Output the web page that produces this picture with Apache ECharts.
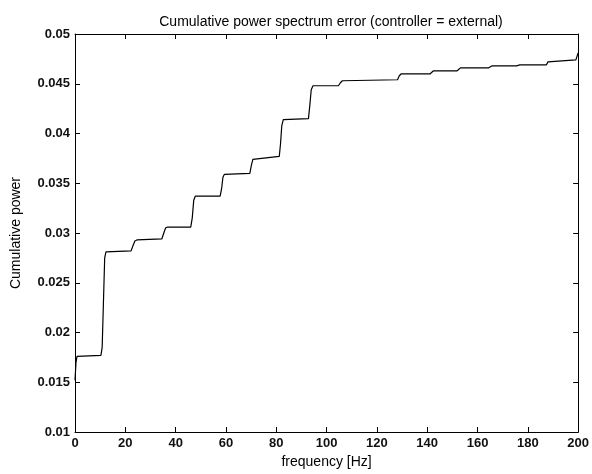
<!DOCTYPE html>
<html>
<head>
<meta charset="utf-8">
<script src="https://cdn.jsdelivr.net/npm/echarts@6/dist/echarts.min.js"></script>
<style>
html,body{margin:0;padding:0;background:#fff;}
#chart{width:592px;height:474px;}
</style>
</head>
<body>
<div id="chart"></div>
<script>
const titleText = 'Cumulative power spectrum error (controller = external)';
const xName = 'frequency [Hz]';
const yName = 'Cumulative power';
const xTicks = [0, 20, 40, 60, 80, 100, 120, 140, 160, 180, 200];
const yTicks = [0.01, 0.015, 0.02, 0.025, 0.03, 0.035, 0.04, 0.045, 0.05];

const freq = [
  0, 0.4, 0.8, 10.3, 10.8, 11.3, 11.8, 12.3,
  22.3, 23.0, 23.8, 24.6,
  34.5, 35.3, 36.0, 36.8,
  46.0, 46.6, 47.2, 47.8,
  57.7, 58.3, 58.8, 59.4,
  69.5, 70.1, 70.7, 71.4,
  81.2, 81.7, 82.2, 82.8,
  92.8, 93.4, 93.9, 94.6,
  104.7, 105.5, 106.3,
  128.2, 128.9, 129.7,
  141.2, 141.9, 142.5,
  151.9, 152.6, 153.2,
  164.5, 165.2, 165.8,
  175.5, 176.2, 176.8,
  187.4, 188.0, 188.7,
  199.1, 199.6, 200
];
const power = [
  0.0152, 0.0170, 0.0176, 0.0177, 0.0185, 0.0230, 0.0275, 0.0281,
  0.0282, 0.0287, 0.0292, 0.0293,
  0.0294, 0.0300, 0.0305, 0.0306,
  0.0306, 0.0315, 0.0333, 0.0337,
  0.0337, 0.0345, 0.0356, 0.0359,
  0.0360, 0.0368, 0.0374, 0.0376,
  0.0377, 0.0390, 0.0408, 0.0414,
  0.0415, 0.0430, 0.0444, 0.0448,
  0.0448, 0.0451, 0.0453,
  0.0454, 0.0458, 0.0460,
  0.0460, 0.0462, 0.0463,
  0.0463, 0.0465, 0.0466,
  0.0466, 0.0467, 0.0468,
  0.0468, 0.0469, 0.0469,
  0.0469, 0.0472, 0.0473,
  0.0474, 0.0478, 0.0481
];

const data = freq.map((f, i) => [f, power[i]]);
const font = 'Liberation Sans, Arial, Helvetica, sans-serif';
const txt = { color: '#000', fontFamily: font, fontSize: 13 };
const tickTxt = { color: '#111', fontFamily: font, fontSize: 13, fontWeight: 'bold' };

const chart = echarts.init(document.getElementById('chart'), null, { renderer: 'canvas' });
const axisLine = { show: true, onZero: false, lineStyle: { color: '#000', width: 1 } };
const tick = { show: true, inside: true, length: 5, lineStyle: { color: '#000', width: 1 } };

chart.setOption({
  animation: false,
  backgroundColor: '#fff',
  title: {
    text: titleText,
    left: 326, textAlign: 'center', top: 10,
    textStyle: { color: '#000', fontFamily: font, fontSize: 14, fontWeight: 'normal' }
  },
  grid: { left: 75, right: 10, top: 34, bottom: 41, containLabel: false },
  xAxis: [
    {
      type: 'value', min: xTicks[0], max: xTicks[xTicks.length - 1], interval: 20,
      name: xName, nameLocation: 'middle', nameGap: 23,
      nameTextStyle: Object.assign({}, txt, { fontSize: 14 }),
      axisLine, axisTick: tick, splitLine: { show: false },
      axisLabel: Object.assign({ margin: 5 }, tickTxt)
    },
    {
      type: 'value', position: 'top', min: xTicks[0], max: xTicks[xTicks.length - 1], interval: 20,
      axisLine, axisTick: tick, splitLine: { show: false }, axisLabel: { show: false }
    }
  ],
  yAxis: [
    {
      type: 'value', min: yTicks[0], max: yTicks[yTicks.length - 1], interval: 0.005,
      name: yName, nameLocation: 'middle', nameGap: 52, nameRotate: 90,
      nameTextStyle: Object.assign({}, txt, { fontSize: 14 }),
      axisLine, axisTick: tick, splitLine: { show: false },
      axisLabel: Object.assign({ margin: 5, formatter: v => String(parseFloat(v.toFixed(4))) }, tickTxt)
    },
    {
      type: 'value', position: 'right', min: yTicks[0], max: yTicks[yTicks.length - 1], interval: 0.005,
      axisLine, axisTick: tick, splitLine: { show: false }, axisLabel: { show: false }
    }
  ],
  series: [{
    type: 'line', data, showSymbol: false, symbol: 'none',
    lineStyle: { color: '#000', width: 1.2 }
  }]
});
</script>
</body>
</html>
